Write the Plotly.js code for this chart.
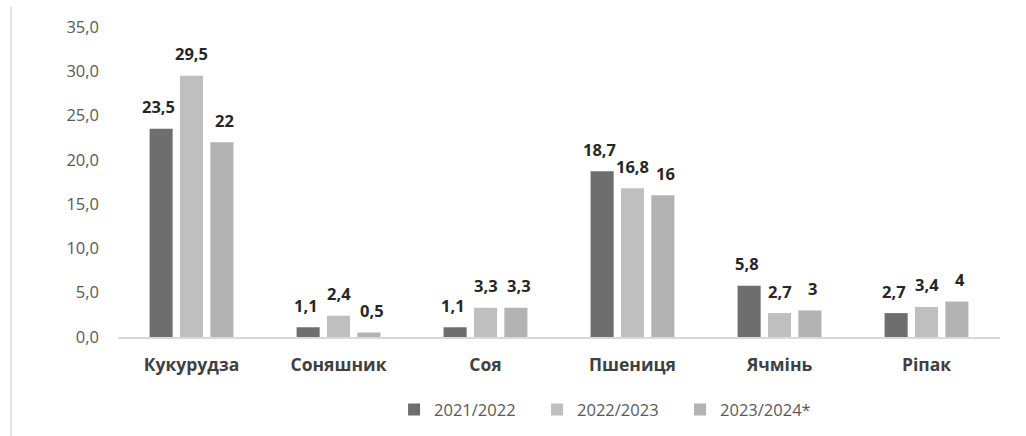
<!DOCTYPE html>
<html>
<head>
<meta charset="utf-8">
<script src="https://cdn.plot.ly/plotly-3.0.1.min.js"></script>
<style>
html,body{margin:0;padding:0;background:#fff;}
#chart{width:1026px;height:436px;}
</style>
</head>
<body>
<div id="chart"></div>
<script>
const categories = ["Кукурудза", "Соняшник", "Соя", "Пшениця", "Ячмінь", "Ріпак"];
const seriesNames = ["2021/2022", "2022/2023", "2023/2024*"];
const v2021 = [23.5, 1.1, 1.1, 18.7, 5.8, 2.7];
const v2022 = [29.5, 2.4, 3.3, 16.8, 2.7, 3.4];
const v2023 = [22, 0.5, 3.3, 16, 3, 4];
const yTicks = [0, 5, 10, 15, 20, 25, 30, 35];
const yTickText = ["0,0", "5,0", "10,0", "15,0", "20,0", "25,0", "30,0", "35,0"];

const seriesValues = [v2021, v2022, v2023];
const colors = ["#6e6e6e", "#bfbfbf", "#b3b3b3"];
const offsets = [-33, 0, 33];
const fmt = v => String(v).replace(".", ",");

const traces = seriesValues.map((vals, i) => ({
  type: "bar",
  name: seriesNames[i],
  x: categories,
  y: vals,
  marker: {color: colors[i]},
  hoverinfo: "skip"
}));

const annotations = [];
seriesValues.forEach((vals, i) => {
  vals.forEach((v, j) => {
    annotations.push({
      x: categories[j], y: v, xref: "x", yref: "y",
      text: fmt(v), showarrow: false,
      xshift: offsets[i], yshift: 22, yanchor: "middle", xanchor: "center",
      font: {family: "Open Sans, sans-serif", size: 16.5, color: "#262626", weight: "bold"}
    });
  });
});

const layout = {
  width: 1026, height: 436,
  margin: {l: 118, r: 26, t: 27, b: 99, autoexpand: false},
  paper_bgcolor: "#ffffff", plot_bgcolor: "#ffffff",
  barmode: "group", bargap: 0.38, bargroupgap: 0.24,
  showlegend: true,
  legend: {
    orientation: "h", x: 0.313, xanchor: "left", y: -0.235, yanchor: "middle",
    font: {family: "Open Sans, sans-serif", size: 16.5, color: "#595959"},
    traceorder: "normal", entrywidth: 98
  },
  xaxis: {
    automargin: false,
    showline: true, linecolor: "#d9d9d9", linewidth: 1.5,
    ticks: "", showgrid: false, zeroline: false,
    tickfont: {family: "Open Sans, sans-serif", size: 17.5, color: "#404040", weight: "bold"},
    ticklabelstandoff: 11
  },
  yaxis: {
    automargin: false,
    range: [0, 35], tickvals: yTicks, ticktext: yTickText,
    showgrid: false, zeroline: false, showline: false, ticks: "",
    tickfont: {family: "Open Sans, sans-serif", size: 16.5, color: "#595959"},
    ticklabelstandoff: 18
  },
  annotations: annotations,
  shapes: [{
    type: "line", xref: "paper", yref: "paper",
    x0: -(118 - 11) / 882, x1: -(118 - 11) / 882,
    y0: -(436 - 337) / 310, y1: (337 - 7) / 310,
    line: {color: "#d9d9d9", width: 1.5}
  }]
};

Plotly.newPlot("chart", traces, layout, {staticPlot: true, displayModeBar: false});
</script>
</body>
</html>
